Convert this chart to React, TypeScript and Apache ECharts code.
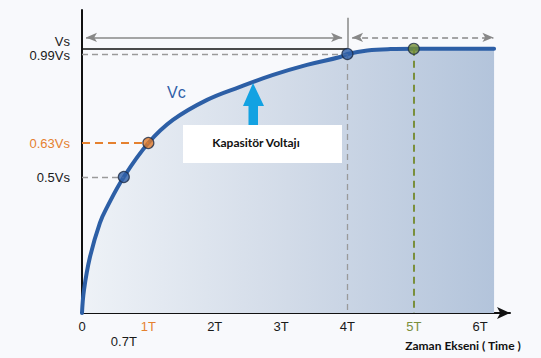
import React, { useEffect, useRef } from "react";
import * as echarts from "echarts";

// Curve Vc (time in T units, voltage as fraction of Vs on the drawing's scale)
const timeValues = [0, 0.03, 0.12, 0.27, 0.38, 0.63, 1.0, 1.37, 1.885, 2.38, 2.88, 3.39, 3.89, 4.0, 4.3, 4.65, 5.0, 6.21];
const vcValues = [0, 0.085, 0.206, 0.332, 0.391, 0.501, 0.626, 0.711, 0.785, 0.833, 0.877, 0.914, 0.943, 0.954, 0.967, 0.972, 0.973, 0.973];

// Highlighted points
const pointT = [0.63, 1, 4, 5];
const pointV = [0.501, 0.626, 0.954, 0.973];
const pointColors = ["#2f5fa8", "#e07a2a", "#2f5fa8", "#748f36"];

// Level lines
const vsLevel = 0.973;
const v99Level = 0.954;

// Tick labels
const xLabelValues = [0, 0.63, 1, 2, 3, 4, 5, 6];
const xLabelTexts = ["0", "0.7T", "1T", "2T", "3T", "4T", "5T", "6T"];
const yLabelValues = [0.5, 0.625, 0.947, 0.999];
const yLabelTexts = ["0.5Vs", "0.63Vs", "0.99Vs", "Vs"];

const ORANGE = "#e5812f";
const GREEN = "#7a8f3c";
const GRAY = "#9a9a9a";

function findIdx(arr: number[], v: number) {
  return arr.findIndex((x) => Math.abs(x - v) < 1e-6);
}

export default function App() {
  const ref = useRef<HTMLDivElement>(null);
  useEffect(() => {
    if (!ref.current) return;
    const chart = echarts.init(ref.current, null, { renderer: "svg" });
    const font = "Liberation Sans";
    const dashGray = { color: GRAY, width: 1.3, type: [6, 4] as any };
    const option: any = {
      animation: false,
      backgroundColor: "#f8f9fc",
      grid: { left: 82, right: 31, top: 10, bottom: 45 },
      xAxis: {
        type: "value",
        min: 0,
        max: 6.45,
        splitLine: { show: false },
        axisLine: {
          show: true,
          onZero: false,
          lineStyle: { color: "#111", width: 2 },
          symbol: ["none", "arrow"],
          symbolSize: [9, 13],
        },
        axisTick: { show: true, inside: true, length: 5, customValues: [1, 2, 3, 4, 5, 6], lineStyle: { color: "#111", width: 1.3 } },
        axisLabel: {
          customValues: xLabelValues,
          margin: 7,
          fontSize: 13,
          fontFamily: font,
          formatter: (v: number) => {
            const i = findIdx(xLabelValues, v);
            if (i < 0) return "";
            if (v === 0.63) return "{low|" + xLabelTexts[i] + "}";
            return xLabelTexts[i];
          },
          color: (v: any) => {
            const n = Number(v);
            if (n === 1) return ORANGE;
            if (n === 5) return GREEN;
            return "#1a1a1a";
          },
          rich: { low: { padding: [15, 0, 0, 0], fontSize: 13, fontFamily: font, color: "#1a1a1a" } },
        },
      },
      yAxis: {
        type: "value",
        min: 0,
        max: 1.116,
        splitLine: { show: false },
        axisLine: { show: true, lineStyle: { color: "#111", width: 2 } },
        axisTick: { show: false },
        axisLabel: {
          customValues: yLabelValues,
          margin: 12,
          fontSize: 13,
          fontFamily: font,
          formatter: (v: number) => {
            const i = findIdx(yLabelValues, v);
            return i < 0 ? "" : yLabelTexts[i];
          },
          color: (v: any) => (Math.abs(Number(v) - 0.625) < 1e-6 ? ORANGE : "#1a1a1a"),
        },
      },
      series: [
        {
          type: "line",
          name: "Vc",
          data: timeValues.map((t, i) => [t, vcValues[i]]),
          smooth: 0.4,
          symbol: "none",
          z: 3,
          lineStyle: { color: "#2d5fa6", width: 4, cap: "round" },
          areaStyle: {
            opacity: 1,
            color: new echarts.graphic.LinearGradient(0, 0, 1, 0, [
              { offset: 0, color: "#eef2f7" },
              { offset: 0.5, color: "#d2dbe8" },
              { offset: 1, color: "#b3c4db" },
            ]),
          },
        },
        {
          type: "line",
          data: [],
          z: 4,
          clip: false,
          markLine: {
            silent: true,
            symbol: ["none", "none"],
            label: { show: false },
            data: [
              [{ coord: [0, vsLevel], lineStyle: { color: "#111", width: 1.6, type: "solid" } }, { coord: [pointT[2], vsLevel] }],
              [{ coord: [0, v99Level], lineStyle: dashGray }, { coord: [pointT[2], v99Level] }],
              [{ coord: [0, pointV[0]], lineStyle: dashGray }, { coord: [pointT[0], pointV[0]] }],
              [{ coord: [pointT[0], pointV[0]], lineStyle: dashGray }, { coord: [pointT[0], -0.037] }],
              [{ coord: [0, pointV[1]], lineStyle: { color: ORANGE, width: 2, type: [8, 5] } }, { coord: [pointT[1], pointV[1]] }],
              [{ coord: [pointT[1], pointV[1]], lineStyle: { color: ORANGE, width: 2, type: [8, 5] } }, { coord: [pointT[1], -0.01] }],
              [{ coord: [pointT[2], pointV[2]], lineStyle: dashGray }, { coord: [pointT[2], 0] }],
              [{ coord: [pointT[3], pointV[3]], lineStyle: { color: GREEN, width: 2, type: [7, 5] } }, { coord: [pointT[3], 0] }],
              [{ coord: [4, 1.087], lineStyle: { color: "#888", width: 1.5, type: "solid" } }, { coord: [4, 0.977] }],
              [
                { coord: [0.06, 1.015], symbol: "arrow", symbolSize: [7, 11], lineStyle: { color: "#888", width: 1.5, type: "solid" } },
                { coord: [3.92, 1.015], symbol: "arrow", symbolSize: [7, 11] },
              ],
              [
                { coord: [4.07, 1.015], symbol: "arrow", symbolSize: [7, 11], lineStyle: { color: "#888", width: 1.5, type: [6, 4] } },
                { coord: [6.2, 1.015], symbol: "arrow", symbolSize: [7, 11] },
              ],
            ],
          },
        },
        {
          type: "scatter",
          z: 5,
          symbolSize: 11,
          data: pointT.map((t, i) => ({
            value: [t, pointV[i]],
            itemStyle: { color: pointColors[i], borderColor: "#1b2b45", borderWidth: 1.2 },
          })),
        },
      ],
      graphic: [
        {
          type: "text",
          left: 167,
          top: 84,
          z: 10,
          style: { text: "Vc", fill: "#2f5fa8", font: "16px 'Liberation Sans'" },
        },
        {
          type: "polygon",
          z: 10,
          shape: { points: [[253, 83], [243, 106], [248.5, 106], [248.5, 126], [258, 126], [258, 106], [264, 106]] },
          style: { fill: "#13a2e2" },
        },
        {
          type: "rect",
          z: 10,
          shape: { x: 183, y: 125, width: 159, height: 38 },
          style: { fill: "#ffffff" },
        },
        {
          type: "text",
          z: 11,
          x: 256,
          y: 142,
          style: {
            text: "Kapasitör Voltajı",
            fill: "#111",
            font: "bold 12px Lato",
            textAlign: "center",
            textVerticalAlign: "middle",
          },
        },
        {
          type: "text",
          z: 11,
          x: 463,
          y: 345,
          style: {
            text: "Zaman Ekseni ( Time )",
            fill: "#111",
            font: "bold 12px Lato",
            textAlign: "center",
            textVerticalAlign: "middle",
          },
        },
      ],
    };
    chart.setOption(option);
    return () => chart.dispose();
  }, []);
  return <div ref={ref} style={{ position: "fixed", left: 0, top: 0, width: 541, height: 358 }} />;
}
